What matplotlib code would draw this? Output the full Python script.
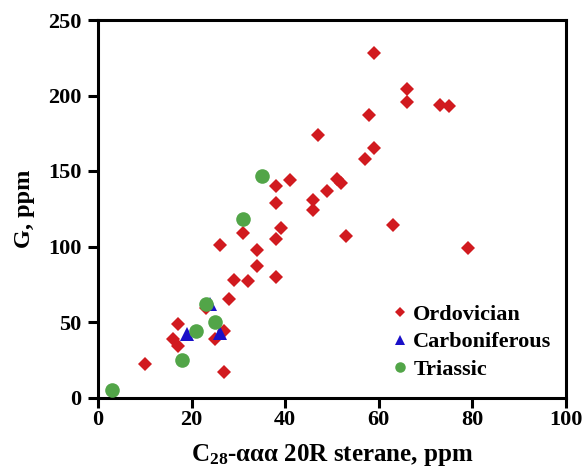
import matplotlib
matplotlib.use("Agg")
import matplotlib.pyplot as plt

# Data
ord_x = [59, 66, 66, 73, 75, 58, 59, 57, 51, 52, 47, 41, 38, 49, 46, 46, 38, 31, 26, 34,
         39, 38, 34, 29, 32, 38, 28, 23, 27, 25, 17, 16, 17, 10, 27, 53, 63, 79]
ord_y = [228, 204, 196, 194, 193, 187, 165, 158, 145, 142, 174, 144, 140, 137, 131, 124, 129, 109, 101, 98,
         112, 105, 87, 78, 77, 80, 65, 59, 44, 39, 49, 39, 34, 22, 17, 107, 114, 99]
carb_x = [24, 26, 19]
carb_y = [62, 43, 42]
tri_x = [35, 31, 23, 25, 21, 18, 3]
tri_y = [147, 118, 62, 50, 44, 25, 5]

x_ticks = [0, 20, 40, 60, 80, 100]
y_ticks = [0, 50, 100, 150, 200, 250]

plt.rcParams['font.family'] = ['Liberation Serif', 'DejaVu Serif']
plt.rcParams['font.weight'] = 'bold'
plt.rcParams['mathtext.fontset'] = 'custom'
plt.rcParams['mathtext.rm'] = 'Liberation Serif:bold'
plt.rcParams['mathtext.bf'] = 'Liberation Serif:bold'
plt.rcParams['mathtext.it'] = 'Liberation Serif:bold:italic'

fig = plt.figure(figsize=(5.82, 4.68), dpi=100)
ax = fig.add_axes([98/582, 1-397.5/468, (566-98)/582, (397.5-20)/468])

red = '#D11A1F'
blue = '#1A10C8'
green = '#52A548'

ax.plot(ord_x, ord_y, 'D', color=red, ms=7.6, mew=0, label='Ordovician', zorder=3)
ax.plot(carb_x, carb_y, '^', color=blue, ms=10, mew=0, label='Carboniferous', zorder=4)
ax.plot(tri_x, tri_y, 'o', color=green, ms=10.5, mew=0, label='Triassic', zorder=5)

ax.set_xlim(0, 100)
ax.set_ylim(0, 250)
ax.set_xticks(x_ticks)
ax.set_yticks(y_ticks)
for s in ax.spines.values():
    s.set_linewidth(2.2)
ax.tick_params(direction='out', length=7.5, width=2.2, labelsize=16)
ax.tick_params(axis='x', pad=1.5)
ax.tick_params(axis='y', pad=4.5)
for lab in ax.get_xticklabels() + ax.get_yticklabels():
    lab.set_fontweight('bold')

ax.set_xlabel('C$_{28}$-ααα 20R sterane, ppm', fontsize=18, fontweight='bold', labelpad=9)
ax.set_ylabel('G, ppm', fontsize=17.5, fontweight='bold', labelpad=9)

leg = ax.legend(loc='center left', bbox_to_anchor=(0.626, 0.147), frameon=False,
                fontsize=16, handlelength=0.8, handletextpad=0.2, labelspacing=0.32,
                borderaxespad=0, borderpad=0, markerscale=0.72)
for t in leg.get_texts():
    t.set_fontweight('bold')

fig.savefig('out.png', dpi=100)
